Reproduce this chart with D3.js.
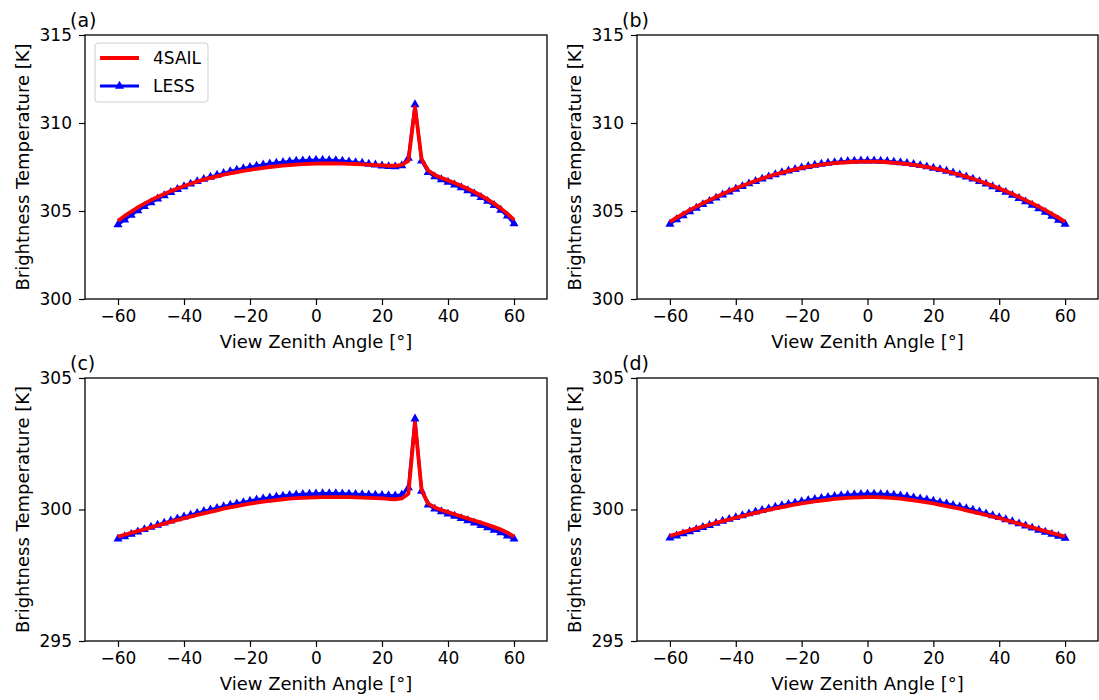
<!DOCTYPE html>
<html><head><meta charset="utf-8">
<script src="https://cdn.jsdelivr.net/npm/d3@7"></script>
<style>body{margin:0;background:#fff}svg text{font-family:"DejaVu Sans",sans-serif}</style>
</head><body><svg id="c" width="1099" height="700"></svg>
<script>
const angles = [-60,-58,-56,-54,-52,-50,-48,-46,-44,-42,-40,-38,-36,-34,-32,-30,-28,-26,-24,-22,-20,-18,-16,-14,-12,-10,-8,-6,-4,-2,0,2,4,6,8,10,12,14,16,18,20,22,24,26,28,30,32,34,36,38,40,42,44,46,48,50,52,54,56,58,60];
const xTicks = [-60,-40,-20,0,20,40,60];
const yTicksTop = [300,305,310,315];
const yTicksBottom = [295,300,305];
const seriesNames = ["4SAIL","LESS"];
const panelLabels = ["(a)","(b)","(c)","(d)"];

const a4sail = [304.45,304.72,304.97,305.2,305.42,305.62,305.8,305.97,306.13,306.28,306.42,306.55,306.67,306.78,306.88,306.97,307.06,307.14,307.21,307.28,307.34,307.4,307.45,307.5,307.54,307.58,307.61,307.64,307.66,307.68,307.69,307.7,307.7,307.7,307.69,307.68,307.67,307.65,307.63,307.61,307.59,307.57,307.57,307.62,307.85,310.9,307.95,307.3,307.05,306.89,306.74,306.59,306.43,306.26,306.08,305.88,305.66,305.42,305.15,304.85,304.5];
const aLess = [304.22,304.5,304.77,305.02,305.26,305.48,305.69,305.88,306.06,306.23,306.39,306.54,306.68,306.81,306.93,307.04,307.14,307.24,307.33,307.41,307.49,307.56,307.62,307.68,307.73,307.77,307.81,307.84,307.86,307.88,307.89,307.89,307.88,307.87,307.84,307.8,307.76,307.72,307.67,307.62,307.57,307.53,307.52,307.58,308.0,311.05,307.85,307.2,306.95,306.79,306.64,306.49,306.33,306.16,305.98,305.78,305.56,305.32,305.05,304.72,304.28];
const b4sail = [304.38,304.62,304.84,305.05,305.25,305.44,305.62,305.8,305.97,306.13,306.29,306.44,306.58,306.72,306.85,306.97,307.08,307.18,307.28,307.37,307.45,307.52,307.58,307.63,307.68,307.72,307.75,307.77,307.79,307.8,307.8,307.8,307.79,307.77,307.74,307.71,307.67,307.62,307.56,307.5,307.43,307.35,307.26,307.16,307.06,306.95,306.83,306.7,306.57,306.43,306.28,306.13,305.97,305.8,305.62,305.44,305.25,305.05,304.84,304.62,304.38];
const bLess = [304.26,304.51,304.74,304.96,305.17,305.37,305.56,305.74,305.92,306.09,306.25,306.4,306.55,306.69,306.82,306.95,307.07,307.18,307.28,307.37,307.46,307.54,307.61,307.67,307.72,307.76,307.8,307.82,307.84,307.85,307.85,307.85,307.84,307.82,307.79,307.75,307.71,307.65,307.59,307.52,307.44,307.36,307.27,307.17,307.06,306.94,306.82,306.68,306.54,306.39,306.23,306.07,305.9,305.72,305.53,305.34,305.14,304.93,304.71,304.48,304.26];
const c4sail = [298.97,299.04,299.11,299.18,299.25,299.32,299.39,299.46,299.53,299.6,299.66,299.73,299.79,299.85,299.91,299.97,300.03,300.08,300.13,300.18,300.22,300.26,300.3,300.33,300.36,300.39,300.41,300.43,300.44,300.45,300.46,300.47,300.47,300.47,300.47,300.47,300.46,300.45,300.44,300.43,300.42,300.4,300.39,300.42,300.6,303.3,300.75,300.22,300.08,299.98,299.9,299.82,299.74,299.66,299.58,299.5,299.42,299.33,299.24,299.12,298.97];
const cLess = [298.88,298.97,299.06,299.15,299.24,299.33,299.41,299.49,299.57,299.65,299.72,299.79,299.86,299.93,299.99,300.05,300.11,300.17,300.22,300.27,300.32,300.37,300.41,300.45,300.48,300.51,300.54,300.56,300.58,300.59,300.6,300.61,300.61,300.61,300.6,300.59,300.58,300.57,300.56,300.55,300.54,300.53,300.52,300.56,300.83,303.45,300.7,300.18,300.02,299.92,299.83,299.75,299.66,299.58,299.49,299.4,299.31,299.22,299.12,299.0,298.88];
const d4sail = [299.0,299.07,299.14,299.21,299.28,299.35,299.42,299.49,299.56,299.62,299.69,299.75,299.81,299.87,299.93,299.99,300.04,300.09,300.14,300.19,300.23,300.27,300.31,300.34,300.37,300.4,300.42,300.44,300.45,300.46,300.47,300.47,300.46,300.45,300.43,300.41,300.38,300.35,300.31,300.27,300.23,300.18,300.13,300.08,300.03,299.97,299.91,299.85,299.79,299.73,299.67,299.6,299.53,299.46,299.39,299.32,299.25,299.18,299.11,299.04,298.97];
const dLess = [298.92,299.0,299.08,299.16,299.24,299.32,299.4,299.48,299.56,299.63,299.7,299.77,299.84,299.91,299.97,300.03,300.09,300.15,300.2,300.25,300.3,300.35,300.39,300.43,300.47,300.5,300.53,300.55,300.57,300.58,300.59,300.59,300.58,300.57,300.55,300.52,300.49,300.45,300.41,300.37,300.32,300.27,300.22,300.16,300.1,300.04,299.98,299.91,299.84,299.77,299.7,299.62,299.54,299.46,299.38,299.3,299.22,299.14,299.06,298.99,298.91];

const svg = d3.select("#c");
const panels = [
  {lab:panelLabels[0], x0:85, x1:547, y0:35, y1:299, dom:[300,315], ticks:yTicksTop, s4:a4sail, sl:aLess, legend:true},
  {lab:panelLabels[1], x0:637, x1:1098, y0:35, y1:299, dom:[300,315], ticks:yTicksTop, s4:b4sail, sl:bLess},
  {lab:panelLabels[2], x0:85, x1:547, y0:378, y1:641, dom:[295,305], ticks:yTicksBottom, s4:c4sail, sl:cLess},
  {lab:panelLabels[3], x0:637, x1:1098, y0:378, y1:641, dom:[295,305], ticks:yTicksBottom, s4:d4sail, sl:dLess}
];
const RED = "#ff0000", BLUE = "#0000ff";
const tri = d3.symbol().type(d3.symbolTriangle).size(36);
const FT = 17, FL = 18;

panels.forEach(p => {
  const x = d3.scaleLinear().domain([-70,70]).range([p.x0,p.x1]);
  const y = d3.scaleLinear().domain(p.dom).range([p.y1,p.y0]);
  const g = svg.append("g");
  const line = d3.line().x((d,i)=>x(angles[i])).y(d=>y(d));
  g.append("path").attr("d", line(p.sl)).attr("fill","none").attr("stroke",BLUE).attr("stroke-width",3);
  g.selectAll(".m").data(p.sl).enter().append("path")
    .attr("d", tri).attr("transform",(d,i)=>`translate(${x(angles[i])},${y(d)})`).attr("fill",BLUE);
  g.append("path").attr("d", line(p.s4)).attr("fill","none").attr("stroke",RED).attr("stroke-width",3.8).attr("stroke-linejoin","round");
  g.append("rect").attr("x",p.x0).attr("y",p.y0).attr("width",p.x1-p.x0).attr("height",p.y1-p.y0)
    .attr("fill","none").attr("stroke","#000").attr("stroke-width",1.3);
  const xa = g.append("g").attr("transform",`translate(0,${p.y1})`)
    .call(d3.axisBottom(x).tickValues(xTicks).tickSize(6).tickPadding(5).tickFormat(d=>d<0?"\u2212"+Math.abs(d):d));
  const ya = g.append("g").attr("transform",`translate(${p.x0},0)`)
    .call(d3.axisLeft(y).tickValues(p.ticks).tickSize(6).tickPadding(7));
  [xa,ya].forEach(a=>{a.select(".domain").remove();a.selectAll("text").attr("font-size",FT).attr("fill","#000").attr("font-family","DejaVu Sans");a.selectAll("line").attr("stroke","#000").attr("stroke-width",1.2);});
  g.append("text").attr("x",(p.x0+p.x1)/2).attr("y",p.y1+49).attr("text-anchor","middle")
    .attr("font-size",FL).text("View Zenith Angle [°]");
  g.append("text").attr("transform",`translate(${p.x0-56},${(p.y0+p.y1)/2}) rotate(-90)`).attr("text-anchor","middle")
    .attr("font-size",FL).text("Brightness Temperature [K]");
  g.append("text").attr("x",p.x0-15).attr("y",p.y0-8).attr("font-size",19).text(p.lab);
  if (p.legend) {
    const lg = g.append("g").attr("transform",`translate(${p.x0+10},${p.y0+8})`);
    lg.append("rect").attr("width",113).attr("height",59).attr("rx",3).attr("fill","#fff").attr("fill-opacity",0.8).attr("stroke","#d0d0d0");
    lg.append("line").attr("x1",5).attr("x2",44).attr("y1",15).attr("y2",15).attr("stroke",RED).attr("stroke-width",3.8);
    lg.append("text").attr("x",58).attr("y",21).attr("font-size",FT).text(seriesNames[0]);
    lg.append("line").attr("x1",5).attr("x2",44).attr("y1",43).attr("y2",43).attr("stroke",BLUE).attr("stroke-width",3);
    lg.append("path").attr("d",tri).attr("transform","translate(24.5,43)").attr("fill",BLUE);
    lg.append("text").attr("x",58).attr("y",49).attr("font-size",FT).text(seriesNames[1]);
  }
});
</script></body></html>
